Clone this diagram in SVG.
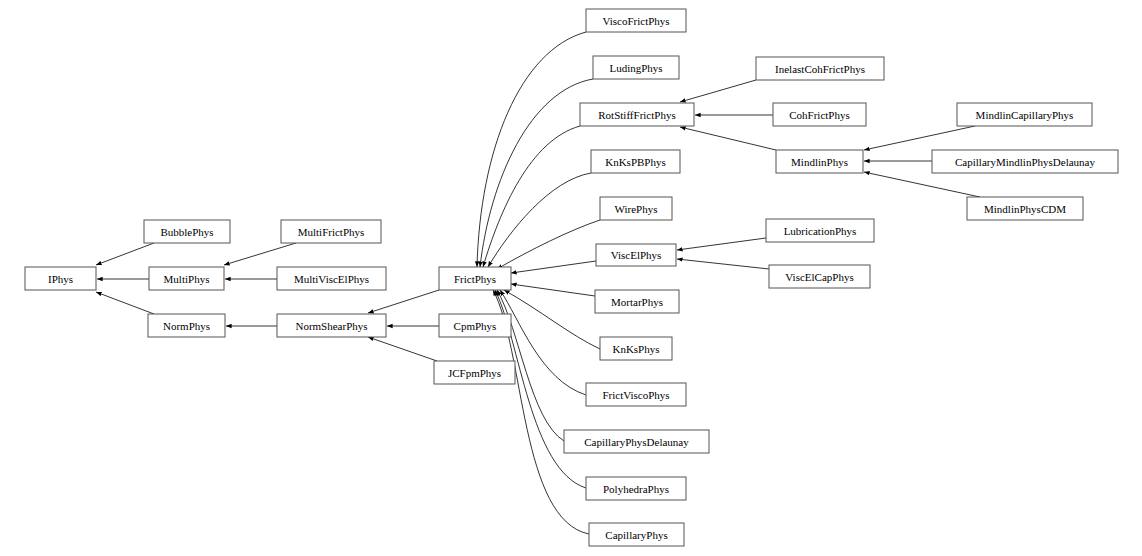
<svg xmlns="http://www.w3.org/2000/svg" width="1142" height="556" viewBox="0 0 1142 556">
<defs>
<marker id="a" viewBox="0 0 10 10" refX="10" refY="5" markerWidth="7" markerHeight="7" orient="auto"><path d="M0,1 L10,5 L0,9 z" fill="#000"/></marker>
<style>
rect{fill:#fff;stroke:#555;stroke-width:1}
text{font-family:"Liberation Serif",serif;font-size:11px;text-anchor:middle;fill:#000}
#edges path{fill:none;stroke:#000;stroke-width:0.8;marker-end:url(#a)}
</style>
</defs>
<rect x="0" y="0" width="1142" height="556" style="stroke:none"/>
<g id="edges">
<path d="M154,243 L96,265"/>
<path d="M149,279 L97,279"/>
<path d="M154,314 L96,292"/>
<path d="M296,243 L224,265"/>
<path d="M277,279 L225,279"/>
<path d="M277,326 L226,326"/>
<path d="M439,290 L368,313"/>
<path d="M439,326 L387,326"/>
<path d="M437,361 L368,337"/>
<path d="M586,32 C520,50 480,150 477,267"/>
<path d="M593,79 C530,90 490,180 480,267"/>
<path d="M580,126 C530,140 500,210 483,267"/>
<path d="M591,173 C550,180 510,230 488,267"/>
<path d="M600,220 C570,230 530,250 497,269"/>
<path d="M596,261 L511,273"/>
<path d="M595,296 L511,284"/>
<path d="M600,349 C570,335 540,310 504,290"/>
<path d="M586,395 C540,380 520,320 500,290"/>
<path d="M564,441 C530,420 520,330 497,290"/>
<path d="M586,488 C530,470 520,340 495,290"/>
<path d="M589,534 C520,520 525,350 493,290"/>
<path d="M756,80 L680,102"/>
<path d="M773,115 L695,115"/>
<path d="M776,150 L680,127"/>
<path d="M766,238 L677,250"/>
<path d="M769,269 L677,259"/>
<path d="M975,126 L864,150"/>
<path d="M932,161 L864,161"/>
<path d="M980,197 L864,172"/>
</g>
<g id="IPhys"><rect x="25" y="267" width="71" height="23"/><text x="60.5" y="282.5">IPhys</text></g>
<g id="BubblePhys"><rect x="144" y="220" width="86" height="23"/><text x="187" y="235.5">BubblePhys</text></g>
<g id="MultiPhys"><rect x="149" y="267" width="75" height="23"/><text x="186.5" y="282.5">MultiPhys</text></g>
<g id="NormPhys"><rect x="148" y="314" width="77" height="23"/><text x="186.5" y="329.5">NormPhys</text></g>
<g id="MultiFrictPhys"><rect x="281" y="220" width="100" height="23"/><text x="331" y="235.5">MultiFrictPhys</text></g>
<g id="MultiViscElPhys"><rect x="277" y="267" width="109" height="23"/><text x="331.5" y="282.5">MultiViscElPhys</text></g>
<g id="NormShearPhys"><rect x="277" y="314" width="109" height="23"/><text x="331.5" y="329.5">NormShearPhys</text></g>
<g id="FrictPhys"><rect x="439" y="267" width="72" height="23"/><text x="475" y="282.5">FrictPhys</text></g>
<g id="CpmPhys"><rect x="439" y="314" width="72" height="23"/><text x="475" y="329.5">CpmPhys</text></g>
<g id="JCFpmPhys"><rect x="434" y="361" width="81" height="23"/><text x="474.5" y="376.5">JCFpmPhys</text></g>
<g id="ViscoFrictPhys"><rect x="586" y="9" width="100" height="23"/><text x="636" y="24.5">ViscoFrictPhys</text></g>
<g id="LudingPhys"><rect x="593" y="56" width="86" height="23"/><text x="636" y="71.5">LudingPhys</text></g>
<g id="RotStiffFrictPhys"><rect x="580" y="103" width="114" height="23"/><text x="637" y="118.5">RotStiffFrictPhys</text></g>
<g id="KnKsPBPhys"><rect x="591" y="150" width="89" height="23"/><text x="635.5" y="165.5">KnKsPBPhys</text></g>
<g id="WirePhys"><rect x="600" y="197" width="72" height="23"/><text x="636" y="212.5">WirePhys</text></g>
<g id="ViscElPhys"><rect x="596" y="244" width="80" height="22"/><text x="636" y="259">ViscElPhys</text></g>
<g id="MortarPhys"><rect x="595" y="290" width="84" height="23"/><text x="637" y="305.5">MortarPhys</text></g>
<g id="KnKsPhys"><rect x="600" y="337" width="72" height="23"/><text x="636" y="352.5">KnKsPhys</text></g>
<g id="FrictViscoPhys"><rect x="586" y="383" width="100" height="23"/><text x="636" y="398.5">FrictViscoPhys</text></g>
<g id="CapillaryPhysDelaunay"><rect x="564" y="430" width="145" height="23"/><text x="636.5" y="445.5">CapillaryPhysDelaunay</text></g>
<g id="PolyhedraPhys"><rect x="586" y="477" width="100" height="23"/><text x="636" y="492.5">PolyhedraPhys</text></g>
<g id="CapillaryPhys"><rect x="589" y="523" width="95" height="23"/><text x="636.5" y="538.5">CapillaryPhys</text></g>
<g id="InelastCohFrictPhys"><rect x="756" y="57" width="128" height="23"/><text x="820" y="72.5">InelastCohFrictPhys</text></g>
<g id="CohFrictPhys"><rect x="773" y="103" width="93" height="23"/><text x="819.5" y="118.5">CohFrictPhys</text></g>
<g id="MindlinPhys"><rect x="776" y="150" width="87" height="23"/><text x="819.5" y="165.5">MindlinPhys</text></g>
<g id="LubricationPhys"><rect x="766" y="219" width="108" height="23"/><text x="820" y="234.5">LubricationPhys</text></g>
<g id="ViscElCapPhys"><rect x="769" y="265" width="101" height="23"/><text x="819.5" y="280.5">ViscElCapPhys</text></g>
<g id="MindlinCapillaryPhys"><rect x="957" y="103" width="135" height="23"/><text x="1024.5" y="118.5">MindlinCapillaryPhys</text></g>
<g id="CapillaryMindlinPhysDelaunay"><rect x="932" y="150" width="186" height="23"/><text x="1025" y="165.5">CapillaryMindlinPhysDelaunay</text></g>
<g id="MindlinPhysCDM"><rect x="967" y="197" width="116" height="23"/><text x="1025" y="212.5">MindlinPhysCDM</text></g>
</svg>
